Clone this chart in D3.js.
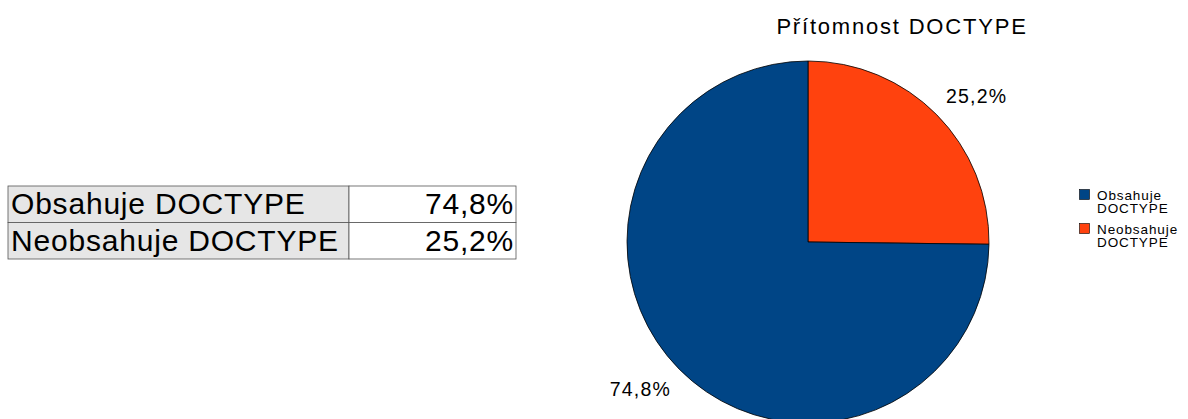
<!DOCTYPE html>
<html lang="cs">
  <head>
    <meta charset="UTF-8" />
    <title>Přítomnost DOCTYPE</title>
    <script src="https://cdn.jsdelivr.net/npm/d3@7"></script>
    <style>
      body { margin: 0; background: #fff; }
      svg { display: block; font-family: "Liberation Sans", Arial, sans-serif; }
    </style>
  </head>
  <body>
    <svg id="chart" width="1188" height="419"></svg>

    <script>
      // data
      const categories = ["Obsahuje DOCTYPE", "Neobsahuje DOCTYPE"];
      const legendLines = [["Obsahuje", "DOCTYPE"], ["Neobsahuje", "DOCTYPE"]];
      const values = [74.8, 25.2];
      const valueLabels = ["74,8%", "25,2%"];
      const colors = ["#004586", "#ff420e"];
      const title = "Přítomnost DOCTYPE";

      let svg = d3.select("#chart");

      // --- table on the left
      let table = svg.append("g");
      let rowY = d3.scaleBand().domain(categories).range([186, 259]);
      let colX = [8, 349, 516];

      table.selectAll("rect.name")
        .data(categories)
        .enter()
        .append("rect")
        .attr("x", colX[0])
        .attr("y", d => rowY(d))
        .attr("width", colX[1] - colX[0])
        .attr("height", rowY.bandwidth())
        .attr("fill", "#e6e6e6")
        .attr("stroke", "#555")
        .attr("stroke-width", 0.8);

      table.selectAll("rect.val")
        .data(categories)
        .enter()
        .append("rect")
        .attr("x", colX[1])
        .attr("y", d => rowY(d))
        .attr("width", colX[2] - colX[1])
        .attr("height", rowY.bandwidth())
        .attr("fill", "#fff")
        .attr("stroke", "#555")
        .attr("stroke-width", 0.8);

      table.selectAll("text.name")
        .data(categories)
        .enter()
        .append("text")
        .attr("x", colX[0] + 3)
        .attr("y", d => rowY(d) + 28)
        .attr("font-size", 30)
        .attr("letter-spacing", 0.8)
        .text(d => d);

      table.selectAll("text.val")
        .data(categories)
        .enter()
        .append("text")
        .attr("x", colX[2] - 2)
        .attr("y", d => rowY(d) + 28)
        .attr("font-size", 30)
        .attr("letter-spacing", 0.8)
        .attr("text-anchor", "end")
        .text((d, i) => valueLabels[i]);

      // --- pie
      let cx = 808, cy = 242, r = 181;
      let order = [1, 0]; // orange slice first, clockwise from the top
      let pie = d3.pie().sort(null).value(i => values[i]);
      let arcs = pie(order);
      let arc = d3.arc().innerRadius(0).outerRadius(r);

      let g = svg.append("g").attr("transform", `translate(${cx},${cy})`);

      g.selectAll("path")
        .data(arcs)
        .enter()
        .append("path")
        .attr("d", arc)
        .attr("fill", d => colors[d.data])
        .attr("stroke", "#000")
        .attr("stroke-width", 0.8);

      // labels: corner of text box on the mid-angle ray
      g.selectAll("text")
        .data(arcs)
        .enter()
        .append("text")
        .attr("font-size", 19.5)
        .attr("letter-spacing", 1.2)
        .attr("fill", "#000")
        .each(function (d) {
          let a = (d.startAngle + d.endAngle) / 2;
          let px = Math.sin(a) * (r + 13);
          let py = -Math.cos(a) * (r + 13);
          let right = Math.sin(a) >= 0;
          let upper = Math.cos(a) >= 0;
          d3.select(this)
            .attr("x", right ? px : px + 1)
            .attr("y", upper ? py - 3 : py + 18)
            .attr("text-anchor", right ? "start" : "end")
            .text(valueLabels[d.data]);
        });

      // title
      svg.append("text")
        .attr("x", 902)
        .attr("y", 34)
        .attr("text-anchor", "middle")
        .attr("font-size", 22)
        .attr("letter-spacing", 1.8)
        .text(title);

      // legend
      let legend = svg.append("g");
      let legY = d3.scalePoint().domain(categories).range([189, 223]);

      legend.selectAll("rect")
        .data(categories)
        .enter()
        .append("rect")
        .attr("x", 1079.5)
        .attr("y", d => legY(d) + 0.5)
        .attr("width", 10)
        .attr("height", 10)
        .attr("fill", (d, i) => colors[i])
        .attr("stroke", "#000")
        .attr("stroke-width", 0.6);

      // one text per line
      categories.forEach((c, i) => {
        legend.selectAll("text.l" + i)
          .data(legendLines[i])
          .enter()
          .append("text")
          .attr("class", "l" + i)
          .attr("x", 1097)
          .attr("y", (t, j) => legY(c) + 11 + j * 13)
          .attr("font-size", 13.5)
          .attr("letter-spacing", 0.9)
          .text(t => t);
      });
    </script>
  </body>
</html>
